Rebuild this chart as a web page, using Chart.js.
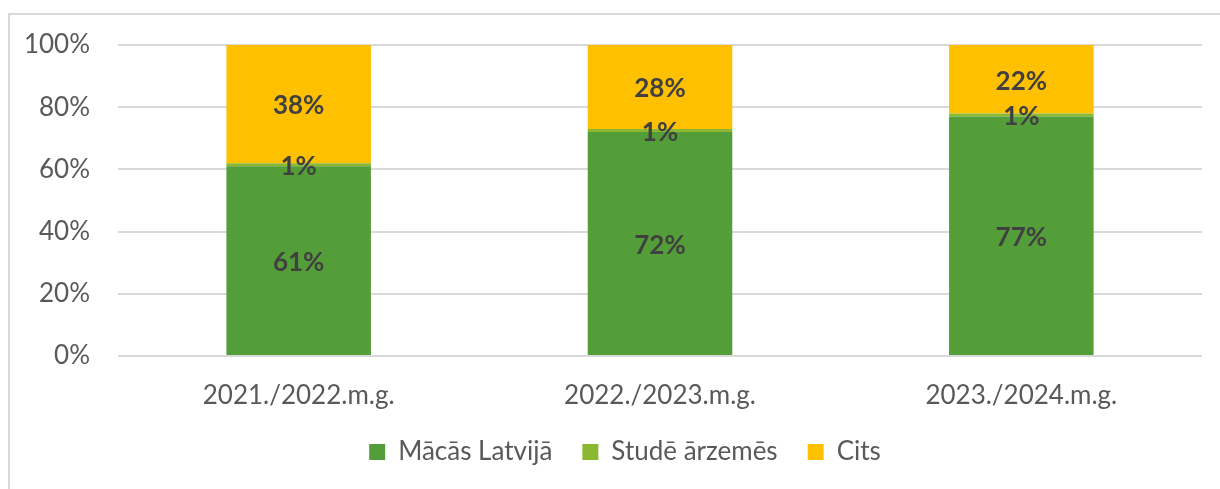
<!DOCTYPE html>
<html>
<head>
<meta charset="utf-8">
<script src="https://cdn.jsdelivr.net/npm/chart.js@4/dist/chart.umd.min.js"></script>
<style>
  html, body { margin: 0; padding: 0; background: #fff; }
  #wrap { width: 1220px; height: 489px; }
</style>
</head>
<body>
<div id="wrap"><canvas id="shareChart" width="1220" height="489"></canvas></div>
<script>
const years = ['2021./2022.m.g.', '2022./2023.m.g.', '2023./2024.m.g.'];
const studyInLatvia = [61, 72, 77];
const studyAbroad = [1, 1, 1];
const other = [38, 28, 22];
const percentTicks = [0, 20, 40, 60, 80, 100];

const FONT = 'Lato, "Open Sans", sans-serif';

// light grey frame around the whole chart
const frame = {
    id: 'frame',
    beforeDraw(chart) {
        const c = chart.ctx;
        c.save();
        c.strokeStyle = '#d9d9d9';
        c.lineWidth = 2;
        c.strokeRect(9, 14, 1240, 500);
        c.restore();
    }
};

// legend sits a little right of the plot centre
const legendShift = {
    id: 'legendShift',
    afterUpdate(chart) {
        const lg = chart.legend;
        if (!lg) return;
        lg.left += 24;
        lg.right += 24;
        if (lg.adjustHitBoxes) lg.adjustHitBoxes();
    }
};

// value labels centred in every bar segment
const segmentLabels = {
    id: 'segmentLabels',
    afterDatasetsDraw(chart) {
        const c = chart.ctx;
        const area = chart.chartArea;
        c.save();
        c.font = 'bold 26px ' + FONT;
        c.fillStyle = '#404040';
        c.textAlign = 'center';
        c.textBaseline = 'middle';
        chart.data.datasets.forEach((ds, i) => {
            chart.getDatasetMeta(i).data.forEach((bar, j) => {
                const p = bar.getProps(['x', 'y', 'base'], true);
                const top = Math.max(Math.min(p.y, p.base), area.top);
                const bottom = Math.max(p.y, p.base);
                c.fillText(ds.data[j] + '%', p.x, (top + bottom) / 2 + 2);
            });
        });
        c.restore();
    }
};

new Chart(document.getElementById('shareChart'), {
    type: 'bar',
    data: {
        labels: years,
        datasets: [{
            label: 'Mācās Latvijā',
            data: studyInLatvia,
            backgroundColor: '#549e39'
        }, {
            label: 'Studē ārzemēs',
            data: studyAbroad,
            backgroundColor: '#8ab833'
        }, {
            label: 'Cits',
            data: other,
            backgroundColor: '#ffc000'
        }]
    },
    options: {
        responsive: false,
        animation: false,
        clip: 0,
        layout: { padding: { left: 0, right: 18, top: 45, bottom: 14 } },
        datasets: { bar: { categoryPercentage: 1, barPercentage: 0.4 } },
        plugins: {
            legend: {
                position: 'bottom',
                labels: {
                    font: { family: FONT, size: 26 },
                    color: '#595959',
                    boxWidth: 16,
                    boxHeight: 16,
                    padding: 30
                }
            },
            tooltip: { enabled: false }
        },
        scales: {
            x: {
                stacked: true,
                grid: { display: false, drawTicks: false },
                border: { display: false },
                ticks: {
                    font: { family: FONT, size: 26 },
                    color: '#595959',
                    padding: 24,
                    maxRotation: 0
                },
                afterFit(scale) { scale.height = 53; }
            },
            y: {
                stacked: true,
                min: 0,
                max: 100,
                grid: { color: '#d9d9d9', lineWidth: 2, drawTicks: false },
                border: { display: false },
                afterBuildTicks(scale) {
                    scale.ticks = percentTicks.map(v => ({ value: v }));
                },
                ticks: {
                    font: { family: FONT, size: 26 },
                    color: '#595959',
                    padding: 28,
                    callback: v => v + '%'
                },
                afterFit(scale) { scale.width = 118; }
            }
        }
    },
    plugins: [frame, legendShift, segmentLabels]
});
</script>
</body>
</html>
